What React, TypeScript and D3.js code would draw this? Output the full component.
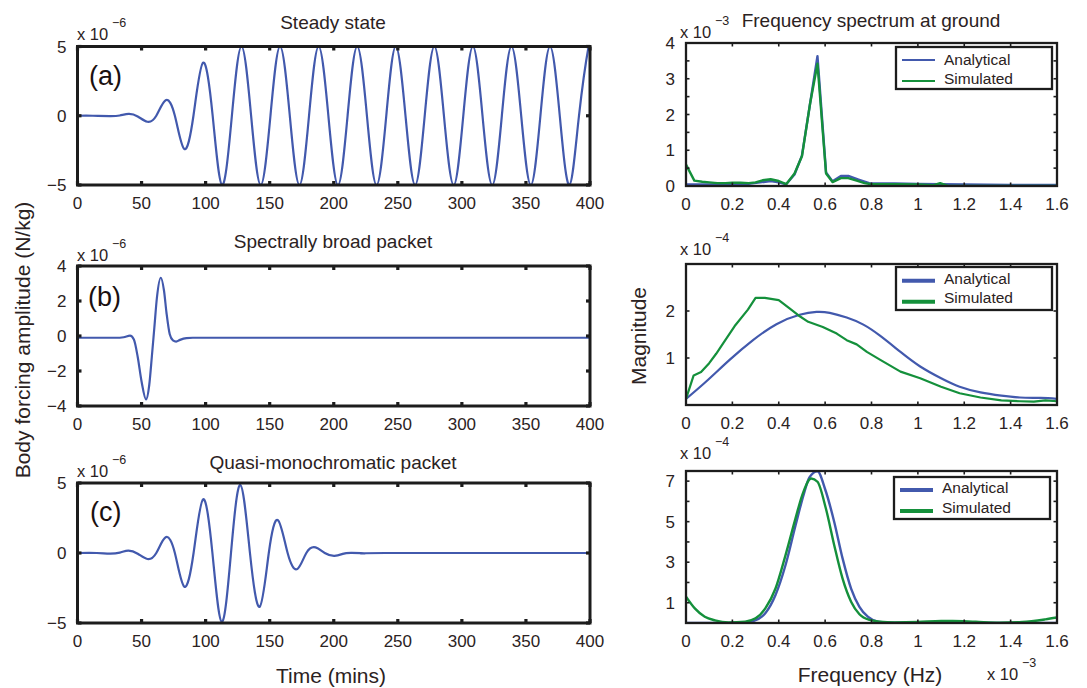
import React from "react";
import * as d3 from "d3";

// ---------------- DATA ----------------
const TIME_TICKS = [0, 50, 100, 150, 200, 250, 300, 350, 400];
const FREQ_TICKS = [0, 0.2, 0.4, 0.6, 0.8, 1, 1.2, 1.4, 1.6];
const FREQ_TICK_LABELS = ["0", "0.2", "0.4", "0.6", "0.8", "1", "1.2", "1.4", "1.6"];

// (a) Steady state  (x 1e-6 N/kg)
const timeA = [0, 12, 25, 33, 40, 47, 54.5, 61.5, 68.8, 76, 83.3, 90.5, 98, 105.5, 112.9, 120.5, 128,
  135.5, 143, 150.6, 158.1, 165.7, 173.2, 180.7, 188.2, 195.8, 203.3, 210.8, 218.3, 225.9, 233.4,
  241, 248.4, 256, 263.5, 271, 278.5, 286, 293.6, 301.1, 308.6, 316.1, 323.7, 331.2, 338.7,
  346.3, 353.8, 361.3, 368.8, 376.4, 383.9, 391.4, 398.9, 400];
const forceA = [0, 0, -0.02, 0.02, 0.13, -0.05, -0.43, 0, 1.12, 0, -2.4, 0, 3.83, 0, -5, 0, 5,
  0, -5, 0, 5, 0, -5, 0, 5, 0, -5, 0, 5, 0, -5,
  0, 5, 0, -5, 0, 5, 0, -5, 0, 5, 0, -5, 0, 5,
  0, -5, 0, 5, 0, -5, 0, 5, 4.97];

// (b) Spectrally broad packet
const timeB = [0, 30, 36, 41, 44, 47, 50, 53.5, 56, 58, 60, 62, 65, 67.5, 69.5, 72, 74.5, 77, 80, 85, 90, 400];
const forceB = [-0.1, -0.1, -0.07, 0.02, -0.2, -1.2, -2.6, -3.62, -2.8, -1.2, 0.5, 2.2, 3.33, 2.6, 1.3, 0.1, -0.25, -0.32, -0.22, -0.12, -0.1, -0.1];

// (c) Quasi-monochromatic packet
const timeC = [0, 15, 25, 33, 39.7, 47, 54.5, 61.5, 68.8, 76, 83.3, 90.6, 98, 105.3, 112.6, 119.8, 127.1,
  134.6, 142.2, 149.3, 156.4, 164, 171.5, 178.6, 185.8, 193, 200.5, 207, 214, 224, 240, 400];
const forceC = [0, 0, -0.04, 0.03, 0.17, -0.05, -0.43, 0, 1.12, 0, -2.4, 0, 3.83, 0, -4.92, 0, 4.86,
  0, -3.84, 0, 2.35, 0, -1.15, 0, 0.4, 0, -0.2, -0.06, 0.01, -0.03, 0, 0];

// Frequency spectrum at ground (x 1e-3)
const freq1A = [0, 0.04, 0.1, 0.2, 0.27, 0.32, 0.365, 0.4, 0.432, 0.468, 0.5, 0.535, 0.567, 0.604, 0.632, 0.668, 0.7, 0.744, 0.79, 0.85, 0.9, 1.0, 1.1, 1.2, 1.4, 1.6];
const mag1A = [0.04, 0.04, 0.04, 0.05, 0.06, 0.1, 0.14, 0.1, 0.05, 0.32, 0.85, 2.3, 3.63, 0.38, 0.13, 0.28, 0.28, 0.18, 0.08, 0.07, 0.07, 0.06, 0.05, 0.04, 0.03, 0.03];
const freq1S = [0, 0.036, 0.07, 0.1, 0.135, 0.17, 0.2, 0.235, 0.27, 0.3, 0.33, 0.365, 0.4, 0.432, 0.468, 0.5, 0.535, 0.567, 0.604, 0.632, 0.668, 0.7, 0.736, 0.77, 0.8, 0.9, 1.0, 1.065, 1.096, 1.13, 1.2, 1.4, 1.6];
const mag1S = [0.6, 0.15, 0.12, 0.1, 0.08, 0.08, 0.09, 0.09, 0.08, 0.1, 0.16, 0.19, 0.14, 0.05, 0.35, 0.83, 2.3, 3.42, 0.35, 0.11, 0.22, 0.22, 0.15, 0.08, 0.05, 0.05, 0.04, 0.02, 0.08, 0.0, 0.0, 0.0, 0.0];

// Broad packet spectrum (x 1e-4)
const freq2A = [0, 0.087, 0.188, 0.289, 0.39, 0.49, 0.563, 0.62, 0.693, 0.765, 0.838, 0.925, 1.01, 1.1, 1.18, 1.27, 1.36, 1.44, 1.53, 1.6];
const mag2A = [0.13, 0.5, 0.96, 1.38, 1.72, 1.92, 1.98, 1.96, 1.86, 1.71, 1.47, 1.13, 0.82, 0.57, 0.39, 0.27, 0.2, 0.16, 0.15, 0.13];
const freq2S = [0, 0.033, 0.065, 0.1, 0.13, 0.16, 0.21, 0.267, 0.3, 0.34, 0.4, 0.448, 0.484, 0.527, 0.59, 0.65, 0.693, 0.736, 0.78, 0.838, 0.925, 1.01, 1.1, 1.18, 1.27, 1.36, 1.44, 1.5, 1.55, 1.6];
const mag2S = [0.13, 0.63, 0.7, 0.89, 1.09, 1.31, 1.68, 2.03, 2.28, 2.28, 2.23, 2.05, 1.91, 1.77, 1.66, 1.52, 1.38, 1.29, 1.13, 0.96, 0.71, 0.57, 0.39, 0.25, 0.16, 0.1, 0.08, 0.07, 0.1, 0.08];

// Quasi-monochromatic spectrum (x 1e-4)
const freq3A = [0, 0.25, 0.284, 0.342, 0.386, 0.429, 0.472, 0.509, 0.533, 0.567, 0.6, 0.639, 0.675, 0.712, 0.748, 0.784, 0.828, 0.9, 1.6];
const mag3A = [0, 0, 0.07, 0.48, 1.38, 2.85, 4.8, 6.4, 7.2, 7.48, 6.6, 5.0, 3.2, 1.7, 0.8, 0.31, 0.07, 0.01, 0];
const freq3S = [0, 0.038, 0.081, 0.125, 0.183, 0.255, 0.3, 0.342, 0.386, 0.429, 0.472, 0.501, 0.54, 0.567, 0.603, 0.639, 0.675, 0.712, 0.748, 0.791, 0.835, 0.9, 1.0, 1.1, 1.15, 1.25, 1.35, 1.45, 1.55, 1.6];
const mag3S = [1.3, 0.72, 0.31, 0.13, 0.03, 0.07, 0.23, 0.72, 1.7, 3.34, 5.15, 6.3, 7.13, 6.97, 5.66, 3.85, 2.2, 1.05, 0.43, 0.15, 0.07, 0.03, 0.05, 0.1, 0.1, 0.06, 0.02, 0.05, 0.18, 0.27];

const LEGEND_LABELS = ["Analytical", "Simulated"];

// ---------------- STYLE ----------------
const FONT = "'Liberation Sans', Arial, Helvetica, sans-serif";
const TEXT = "#2b2222";
const FRAME = "#1c1c1c";
const BLUE = "#4259ad";
const GREEN = "#14903b";

const fmt = (v: number) => (v < 0 ? "\u2212" + Math.abs(v) : String(v));

type Series = { xs: number[]; ys: number[]; color: string; curve: any; width: number };

function Panel(props: any) {
  const { id, box, xDomain, yDomain, xTicks, xLabels, yTicks, yLabelVals, series, frameW, tickW, tickLen } = props;
  const x = d3.scaleLinear().domain(xDomain).range([box.l, box.r]);
  const y = d3.scaleLinear().domain(yDomain).range([box.b, box.t]);
  return (
    <g>
      <defs>
        <clipPath id={id}>
          <rect x={box.l} y={box.t - 1} width={box.r - box.l} height={box.b - box.t + 2} />
        </clipPath>
      </defs>
      <rect x={box.l} y={box.t} width={box.r - box.l} height={box.b - box.t} fill="white" />
      <g clipPath={`url(#${id})`}>
        {series.map((s: Series, i: number) => {
          const gen = d3.line<number>().x((_, j) => x(s.xs[j])).y((d) => y(d)).curve(s.curve);
          return <path key={i} d={gen(s.ys) || ""} fill="none" stroke={s.color} strokeWidth={s.width} strokeLinejoin="round" />;
        })}
      </g>
      {xTicks.map((t: number, i: number) => (
        <g key={"xt" + i}>
          <line x1={x(t)} x2={x(t)} y1={box.b} y2={box.b - tickLen} stroke={FRAME} strokeWidth={tickW} />
          <line x1={x(t)} x2={x(t)} y1={box.t} y2={box.t + tickLen} stroke={FRAME} strokeWidth={tickW} />
          <text x={x(t)} y={box.b + 23.5} textAnchor="middle" fontSize={17} fill={TEXT} fontFamily={FONT}>{xLabels[i]}</text>
        </g>
      ))}
      {yTicks.map((t: number, i: number) => (
        <g key={"yt" + i}>
          <line x1={box.l} x2={box.l + tickLen} y1={y(t)} y2={y(t)} stroke={FRAME} strokeWidth={tickW} />
          <line x1={box.r} x2={box.r - tickLen} y1={y(t)} y2={y(t)} stroke={FRAME} strokeWidth={tickW} />
        </g>
      ))}
      {yLabelVals.map((v: number, i: number) => (
        <text key={"yl" + i} x={box.l - 11} y={y(v)} dy="0.36em" textAnchor="end" fontSize={17} fill={TEXT} fontFamily={FONT}>{fmt(v)}</text>
      ))}
      <rect x={box.l} y={box.t} width={box.r - box.l} height={box.b - box.t} fill="none" stroke={FRAME} strokeWidth={frameW} />
    </g>
  );
}

function Exponent({ x, y, exp, size = 16.5 }: any) {
  return (
    <g fontFamily={FONT} fill={TEXT}>
      <text x={x} y={y} fontSize={size}>x 10</text>
      <text x={x + 35} y={y - 13} fontSize={12.5}>{"\u2212" + exp}</text>
    </g>
  );
}

function Legend({ box, lineY, textY, lineW }: any) {
  const colors = [BLUE, GREEN];
  return (
    <g>
      <rect x={box.l} y={box.t} width={box.r - box.l} height={box.b - box.t} fill="white" stroke={FRAME} strokeWidth={2.3} />
      {LEGEND_LABELS.map((lab, i) => (
        <g key={i}>
          <line x1={box.l + 6} x2={box.l + 39} y1={lineY[i]} y2={lineY[i]} stroke={colors[i]} strokeWidth={lineW} />
          <text x={box.l + 48} y={textY[i]} dy="0.35em" fontSize={15.5} fill={TEXT} fontFamily={FONT}>{lab}</text>
        </g>
      ))}
    </g>
  );
}

export default function App() {
  const leftX = { l: 77.5, r: 590 };
  const rightX = { l: 686, r: 1057 };
  const boxA = { ...leftX, t: 46.5, b: 185 };
  const boxB = { ...leftX, t: 266, b: 406 };
  const boxC = { ...leftX, t: 483, b: 623 };
  const box1 = { ...rightX, t: 43, b: 186 };
  const box2 = { ...rightX, t: 264, b: 405 };
  const box3 = { ...rightX, t: 471, b: 623 };

  const leftCommon = { xDomain: [0, 400], xTicks: TIME_TICKS, xLabels: TIME_TICKS.map(String), frameW: 3, tickW: 3.2, tickLen: 4 };
  const rightCommon = { xDomain: [0, 1.6], xTicks: FREQ_TICKS, xLabels: FREQ_TICK_LABELS, frameW: 2.3, tickW: 1.6, tickLen: 3.5 };

  const spec1Ticks = [0.5, 1, 1.5, 2, 2.5, 3, 3.5];
  const spec3Ticks = [1, 2, 3, 4, 5, 6, 7];

  return (
    <svg width={1087} height={688} style={{ display: "block", position: "absolute", left: 0, top: 0, background: "white" }}>
      <rect x={0} y={0} width={1087} height={688} fill="white" />
      {/* Titles */}
      <g fontFamily={FONT} fill={TEXT} fontSize={19} textAnchor="middle">
        <text x={333} y={29}>Steady state</text>
        <text x={333} y={248}>Spectrally broad packet</text>
        <text x={333} y={469}>Quasi-monochromatic packet</text>
        <text x={871} y={27}>Frequency spectrum at ground</text>
      </g>

      <Panel id="cA" box={boxA} {...leftCommon} yDomain={[-5, 5]} yTicks={[-5, 0, 5]} yLabelVals={[-5, 0, 5]}
        series={[{ xs: timeA, ys: forceA, color: BLUE, curve: d3.curveNatural, width: 2.2 }]} />
      <Panel id="cB" box={boxB} {...leftCommon} yDomain={[-4, 4]} yTicks={[-4, -2, 0, 2, 4]} yLabelVals={[-4, -2, 0, 2, 4]}
        series={[{ xs: timeB, ys: forceB, color: BLUE, curve: d3.curveMonotoneX, width: 2.2 }]} />
      <Panel id="cC" box={boxC} {...leftCommon} yDomain={[-5, 5]} yTicks={[-5, 0, 5]} yLabelVals={[-5, 0, 5]}
        series={[{ xs: timeC, ys: forceC, color: BLUE, curve: d3.curveNatural, width: 2.2 }]} />

      <Panel id="c1" box={box1} {...rightCommon} yDomain={[0, 4]} yTicks={spec1Ticks} yLabelVals={[0, 1, 2, 3, 4]}
        series={[
          { xs: freq1A, ys: mag1A, color: BLUE, curve: d3.curveLinear, width: 2.4 },
          { xs: freq1S, ys: mag1S, color: GREEN, curve: d3.curveLinear, width: 2.4 },
        ]} />
      <Panel id="c2" box={box2} {...rightCommon} yDomain={[0, 3]} yTicks={[1, 2]} yLabelVals={[1, 2]}
        series={[
          { xs: freq2A, ys: mag2A, color: BLUE, curve: d3.curveNatural, width: 2.2 },
          { xs: freq2S, ys: mag2S, color: GREEN, curve: d3.curveLinear, width: 2.2 },
        ]} />
      <Panel id="c3" box={box3} {...rightCommon} yDomain={[0, 7.5]} yTicks={spec3Ticks} yLabelVals={[1, 3, 5, 7]}
        series={[
          { xs: freq3A, ys: mag3A, color: BLUE, curve: d3.curveMonotoneX, width: 2.4 },
          { xs: freq3S, ys: mag3S, color: GREEN, curve: d3.curveMonotoneX, width: 2.4 },
        ]} />

      {/* panel letters */}
      <g fontFamily={FONT} fill="#1a1010" fontSize={27}>
        <text x={89} y={85}>(a)</text>
        <text x={88} y={306}>(b)</text>
        <text x={90} y={521}>(c)</text>
      </g>

      {/* exponents */}
      <Exponent x={77} y={40} exp="6" />
      <Exponent x={77} y={261} exp="6" />
      <Exponent x={77} y={477} exp="6" />
      <Exponent x={680} y={38} exp="3" />
      <Exponent x={680} y={255} exp="4" />
      <Exponent x={680} y={459} exp="4" />
      <Exponent x={987} y={680} exp="3" />

      {/* legends */}
      <Legend box={{ l: 896, r: 1052, t: 47, b: 89 }} lineY={[60, 81]} textY={[60, 79]} lineW={2.2} />
      <Legend box={{ l: 896, r: 1052, t: 267, b: 310 }} lineY={[280.7, 301.7]} textY={[279, 298]} lineW={4} />
      <Legend box={{ l: 894, r: 1050, t: 477, b: 519 }} lineY={[490, 511]} textY={[488, 508]} lineW={4} />

      {/* axis labels */}
      <g fontFamily={FONT} fill={TEXT} fontSize={21} textAnchor="middle">
        <text transform="translate(30,340) rotate(-90)">Body forcing amplitude (N/kg)</text>
        <text transform="translate(646,336) rotate(-90)">Magnitude</text>
        <text x={331} y={683}>Time (mins)</text>
        <text x={870} y={682}>Frequency (Hz)</text>
      </g>
    </svg>
  );
}
